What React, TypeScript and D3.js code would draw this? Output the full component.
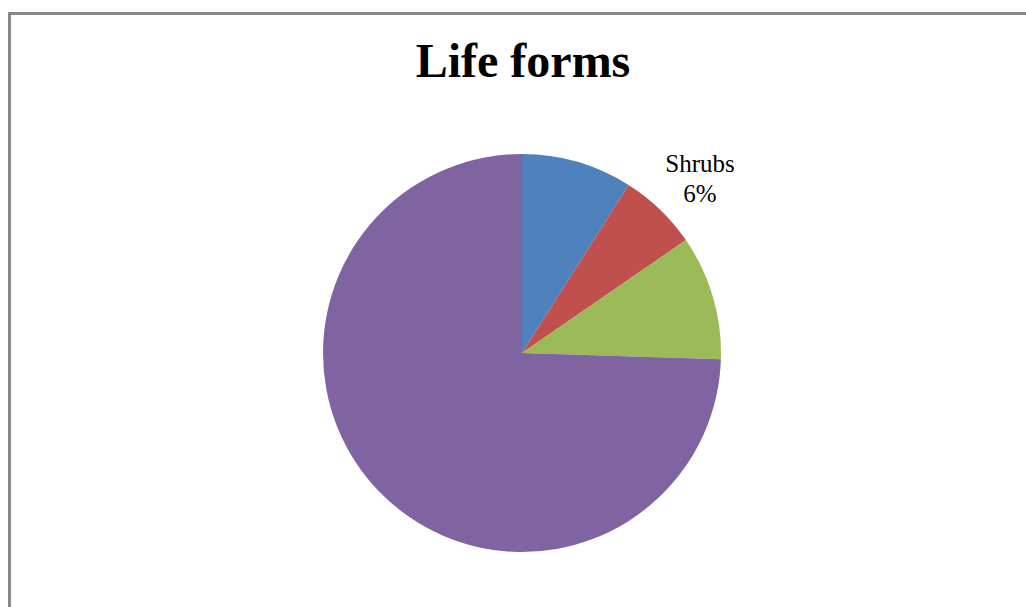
import React from "react";
import * as d3 from "d3";

const categories = ["Trees", "Shrubs", "Climbers", "Herbs"];
const values = [9, 6.4, 10.1, 74.5];
const colors = ["#4F81BD", "#C0504D", "#9BBB59", "#8064A2"];
const labelShown = [false, true, false, false];

export default function App() {
  const W = 1026, H = 607;
  const cx = 522, cy = 353, r = 199;
  const pie = d3.pie<number>().sort(null).value((d) => d)(values);
  const arc = d3.arc<d3.PieArcDatum<number>>().innerRadius(0).outerRadius(r);
  const total = d3.sum(values);
  return (
    <div style={{ position: "fixed", left: 0, top: 0 }}>
      <svg width={W} height={H} style={{ display: "block", background: "#fff" }}>
        <rect x={9.5} y={13.5} width={W + 20} height={H + 20} fill="#fff" stroke="#898989" strokeWidth={3} />
        <text x={523} y={77} textAnchor="middle" fontFamily="Liberation Serif, Times New Roman, serif" fontWeight="bold" fontSize={48}>Life forms</text>
        <g transform={`translate(${cx},${cy})`}>
          {pie.map((p, i) => (
            <path key={i} d={arc(p) || ""} fill={colors[i]} />
          ))}
        </g>
        {pie.map((p, i) =>
          labelShown[i] ? (
            <text key={i} x={700} y={172} textAnchor="middle" fontFamily="Liberation Serif, Times New Roman, serif" fontSize={25}>
              <tspan x={700}>{categories[i]}</tspan>
              <tspan x={700} dy={30}>{Math.round((values[i] / total) * 100)}%</tspan>
            </text>
          ) : null
        )}
      </svg>
    </div>
  );
}
